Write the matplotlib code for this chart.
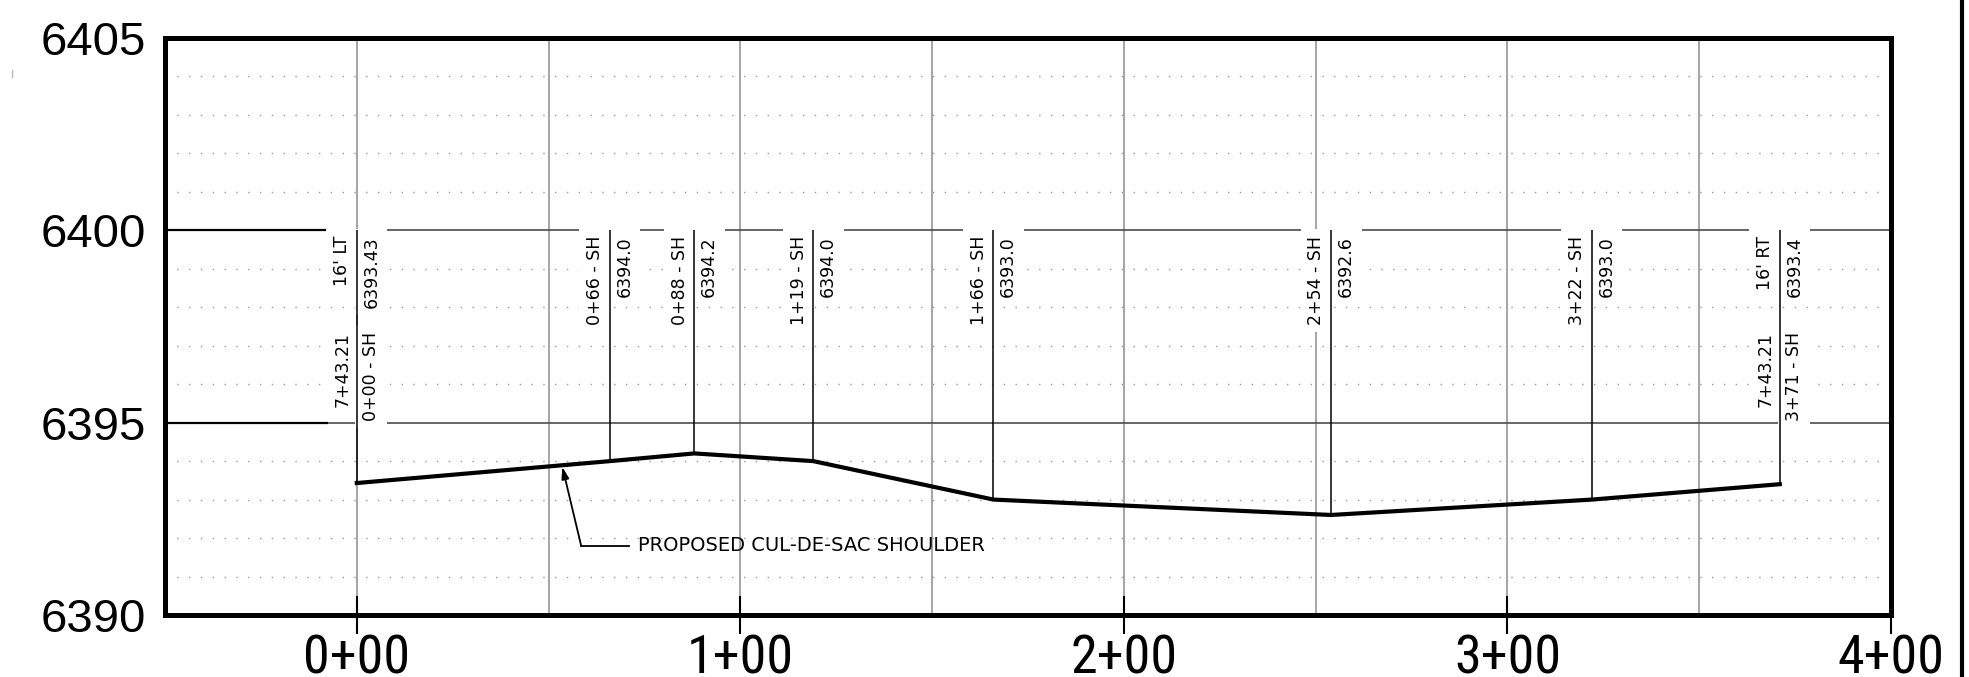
import matplotlib
matplotlib.use('Agg')
import matplotlib.pyplot as plt
from matplotlib.ticker import MultipleLocator
from matplotlib.lines import Line2D

# shoulder profile points (station in ft, elevation in ft)
stations = [0, 66, 88, 119, 166, 254, 322, 371]
elevations = [6393.43, 6394.0, 6394.2, 6394.0, 6393.0, 6392.6, 6393.0, 6393.4]
station_labels = ['0+00 - SH', '0+66 - SH', '0+88 - SH', '1+19 - SH',
                  '1+66 - SH', '2+54 - SH', '3+22 - SH', '3+71 - SH']
elev_labels = ['6393.43', '6394.0', '6394.2', '6394.0',
               '6393.0', '6392.6', '6393.0', '6393.4']
# the two end points also carry offset and alignment station
end_offsets = {0: "16' LT", 371: "16' RT"}
end_align = '7+43.21'

xtick_vals = [0, 100, 200, 300, 400]
xtick_labels = ['0+00', '1+00', '2+00', '3+00', '4+00']
ytick_vals = [6390, 6395, 6400, 6405]
ytick_labels = ['6390', '6395', '6400', '6405']

fig = plt.figure(figsize=(19.69, 6.77), dpi=100)
ax = fig.add_axes([0.0838, 0.0916, 0.8766, 0.8523])
ax.set_xlim(-50, 400)
ax.set_ylim(6390, 6405)
ax.set_axisbelow(True)

for s in ax.spines.values():
    s.set_linewidth(3.6)

ax.set_xticks(xtick_vals)
ax.set_xticklabels(xtick_labels, fontfamily=['Roboto Condensed', 'DejaVu Sans'],
                   fontstretch='condensed', fontsize=39)
ax.set_yticks(ytick_vals)
ax.set_yticklabels(ytick_labels, fontfamily=['Liberation Sans', 'DejaVu Sans'], fontsize=34)
ax.xaxis.set_minor_locator(MultipleLocator(50))
ax.yaxis.set_minor_locator(MultipleLocator(1))
ax.tick_params(axis='x', which='major', direction='inout', length=27, width=1.5, pad=0)
ax.tick_params(axis='y', which='major', direction='in', length=117, width=1.6, pad=14)
ax.tick_params(which='minor', length=0)

ax.xaxis.grid(True, which='both', color='#8c8c8c', lw=1.1)
ax.yaxis.grid(True, which='major', color='#4d4d4d', lw=1.2)
ax.yaxis.grid(True, which='minor', color='#9a9a9a', lw=1.0, linestyle=(0, (1, 7.5)))

box = dict(boxstyle='square,pad=0.4', fc='white', ec='none')
lab = dict(fontsize=12.5, rotation=90, textcoords='offset points', zorder=3, bbox=box)

for st, el, sl, evl in zip(stations, elevations, station_labels, elev_labels):
    if st in end_offsets:
        ax.annotate(end_offsets[st], (st, 6399.85), xytext=(-4, 0), ha='right', va='top', **lab)
        ax.annotate(evl, (st, 6399.85), xytext=(4, 0), ha='left', va='top', **lab)
        ax.annotate(end_align, (st, 6397.35), xytext=(-4, 0), ha='right', va='top', **lab)
        ax.annotate(sl, (st, 6397.35), xytext=(4, 0), ha='left', va='top', **lab)
    else:
        ax.annotate(sl, (st, 6399.85), xytext=(-4, 0), ha='right', va='top', **lab)
        ax.annotate(evl, (st, 6399.85), xytext=(4, 0), ha='left', va='top', **lab)

ax.vlines(stations, elevations, 6400, colors='k', lw=1.1, zorder=4)
ax.plot(stations, elevations, color='k', lw=3, zorder=5)

# leader for the callout
ax.annotate('', xy=(53.6, 6393.85), xytext=(58.5, 6391.8),
            arrowprops=dict(arrowstyle='-|>,head_length=0.7,head_width=0.22',
                            color='k', lw=1.3, shrinkA=0, shrinkB=0), zorder=6)
ax.plot([58.5, 71.1], [6391.8, 6391.8], color='k', lw=1.3, zorder=6)
ax.text(73.2, 6391.8, 'PROPOSED CUL-DE-SAC SHOULDER', fontsize=14, va='center', zorder=6)

# sheet border on the right and a stray mark on the left
fig.add_artist(Line2D([1962 / 1969] * 2, [0, 1], color='k', lw=3))
fig.add_artist(Line2D([12 / 1969] * 2, [1 - 70 / 677, 1 - 77 / 677], color='#bbbbbb', lw=1))

fig.savefig('out.png', dpi=100)
